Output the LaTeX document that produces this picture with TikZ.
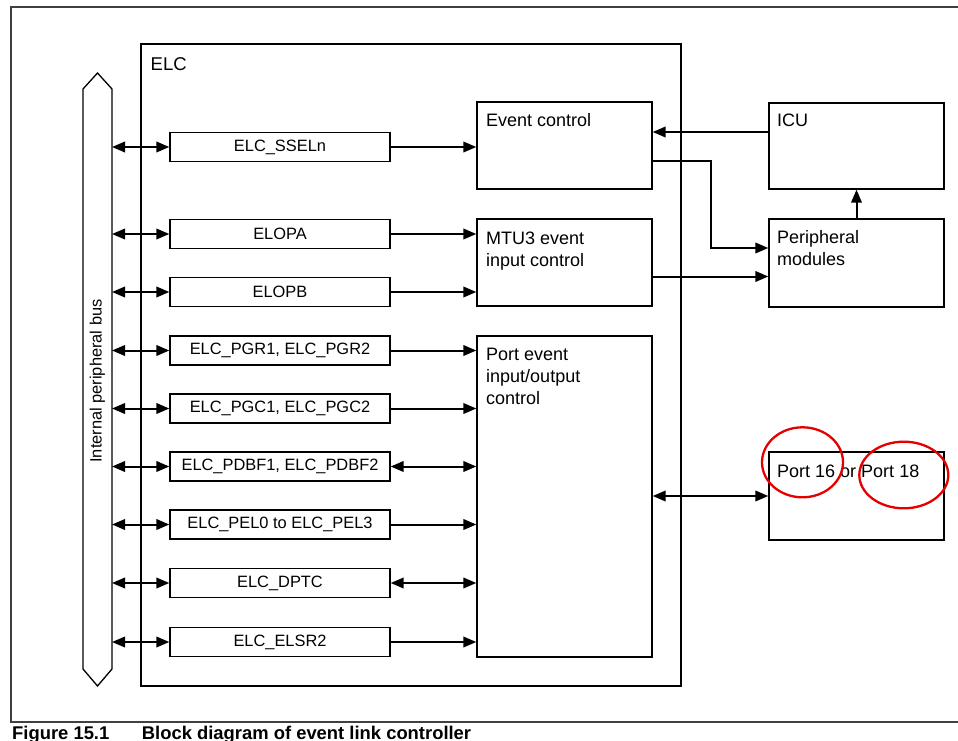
\documentclass[tikz,border=0pt]{standalone}
\usepackage{fontspec}
\setmainfont{Liberation Sans}
\usetikzlibrary{arrows.meta,calc}
\begin{document}
\begin{tikzpicture}[x=1pt,y=-1pt,
  box/.style={draw, line width=1.3pt, minimum width=175pt, inner sep=0pt},
  reg/.style={draw, line width=1.3pt, minimum width=220pt, minimum height=29pt, inner sep=0pt, font=\fontsize{16.4}{19}\selectfont},
  lbl/.style={anchor=base west, inner sep=0pt, font=\fontsize{18}{21.7}\selectfont, align=left},
  arr/.style={line width=2pt, -{Triangle[length=13pt,width=10.5pt]}},
  darr/.style={line width=2pt, {Triangle[length=13pt,width=10.5pt]}-{Triangle[length=13pt,width=10.5pt]}},
  frame/.style={draw=black!75, line width=1.2pt},
  redring/.style={draw=red!90!black, line width=2.3pt}
]
\useasboundingbox (0,0) rectangle (958,741);
% outer frame
\draw[frame] (965,7) -- (11,7) -- (11,722) -- (965,722);
% ELC box
\draw[line width=1.3pt] (141,44) rectangle (681,686);
\node[lbl, font=\fontsize{18.5}{22}\selectfont] (elc) at (150.5,70.7) {ELC};
% bus
\draw[line width=1.3pt] (83,89) -- (97.5,73) -- (112,89) -- (112,669) -- (97.5,686) -- (83,669) -- cycle;
\coordinate (busR) at (112,380);
\node[rotate=90, inner sep=0pt, font=\fontsize{16.4}{19}\selectfont] (buslbl) at (97.5,381) {Internal peripheral bus};
% registers
\node[reg] (r1) at (280,147) {ELC\_SSELn};
\node[reg] (r2) at (280,234) {ELOPA};
\node[reg] (r3) at (280,292) {ELOPB};
\node[reg] (r4) at (280,350.5) {ELC\_PGR1, ELC\_PGR2};
\node[reg] (r5) at (280,408.5) {ELC\_PGC1, ELC\_PGC2};
\node[reg] (r6) at (280,466.5) {ELC\_PDBF1, ELC\_PDBF2};
\node[reg] (r7) at (280,524.5) {ELC\_PEL0 to ELC\_PEL3};
\node[reg] (r8) at (280,583) {ELC\_DPTC};
\node[reg] (r9) at (280,642) {ELC\_ELSR2};
% blocks
\node[box, minimum height=87pt] (ev) at (564.5,145.5) {};
\node[box, minimum height=87pt] (mtu) at (564.5,262.5) {};
\node[box, minimum height=321pt] (port) at (564.5,496.5) {};
\node[box, minimum height=86pt] (icu) at (856.5,146) {};
\node[box, minimum height=88pt] (per) at (856.5,263) {};
\node[box, minimum height=88pt] (pio) at (856.5,496) {};
\node[lbl] (evt) at (486,127) {Event control};
\node[lbl] (mtut) at (486,266) {MTU3 event\\input control};
\node[lbl] (portt) at (486,404) {Port event\\input/output\\control};
\node[lbl] (icut) at (777,127) {ICU};
\node[lbl] (pert) at (777,265) {Peripheral\\modules};
\node[lbl] (piot) at (777,477) {Port 16 or Port 18};
% bus arrows
\foreach \r in {r1,r2,r3,r4,r5,r6,r7,r8,r9}
  \draw[darr] (\r.west -| busR) -- (\r.west);
% register to block arrows
\draw[arr] (r1.east) -- (r1.east -| ev.west);
\draw[arr] (r2.east) -- (r2.east -| mtu.west);
\draw[arr] (r3.east) -- (r3.east -| mtu.west);
\draw[arr] (r4.east) -- (r4.east -| port.west);
\draw[arr] (r5.east) -- (r5.east -| port.west);
\draw[darr] (r6.east) -- (r6.east -| port.west);
\draw[arr] (r7.east) -- (r7.east -| port.west);
\draw[darr] (r8.east) -- (r8.east -| port.west);
\draw[arr] (r9.east) -- (r9.east -| port.west);
% right side
\draw[arr] ([yshift=14pt]icu.west) -- ([yshift=14pt]icu.west -| ev.east);
\draw[arr] ([yshift=-15.5pt]ev.east) -- ++(58,0) |- ([yshift=15pt]per.west);
\draw[arr] ([yshift=-14pt]mtu.east) -- ([yshift=-14pt]mtu.east -| per.west);
\draw[arr] (per.north) -- (icu.south);
\draw[darr] (pio.west -| port.east) -- (pio.west);
% red marks
\draw[redring] (802.5,462.3) ellipse [x radius=40.5, y radius=35];
\draw[redring] (903.8,475) ellipse [x radius=44.5, y radius=33.3];
% caption
\node[anchor=base west, inner sep=0pt, font=\bfseries\fontsize{18.4}{22}\selectfont] (fig) at (12,739) {Figure 15.1};
\node[anchor=base west, inner sep=0pt, font=\bfseries\fontsize{18.4}{22}\selectfont] (cap) at (141.7,739) {Block diagram of event link controller};
\end{tikzpicture}
\end{document}
